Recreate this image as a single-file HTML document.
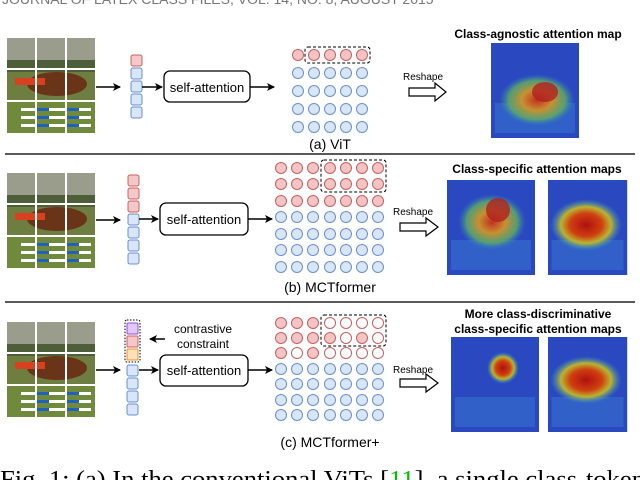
<!DOCTYPE html>
<html><head><meta charset="utf-8"><style>
html,body{margin:0;padding:0;background:#fff;}
svg{display:block;font-family:"Liberation Sans",Arial,sans-serif;}
</style></head><body>
<svg width="640" height="480" viewBox="0 0 640 480" xmlns="http://www.w3.org/2000/svg">
<defs>
<marker id="ah" markerWidth="8" markerHeight="8" refX="7" refY="4" orient="auto" markerUnits="userSpaceOnUse"><path d="M0,0 L8,4 L0,8 L2,4 z" fill="#000"/></marker>
<radialGradient id="hot" cx="50%" cy="50%" r="50%"><stop offset="0" stop-color="#b01010"/><stop offset="0.45" stop-color="#d04010"/><stop offset="0.7" stop-color="#c8c020" stop-opacity="0.9"/><stop offset="1" stop-color="#30a0c0" stop-opacity="0"/></radialGradient>
<radialGradient id="warm" cx="50%" cy="50%" r="50%"><stop offset="0" stop-color="#c03020"/><stop offset="0.4" stop-color="#c89030"/><stop offset="0.75" stop-color="#60b060" stop-opacity="0.8"/><stop offset="1" stop-color="#3080c0" stop-opacity="0"/></radialGradient>
<g id="photo">
<rect x="0" y="0" width="88" height="95" fill="#8a8a6a"/>
<rect x="0" y="0" width="88" height="22" fill="#9a9c8c"/>
<rect x="0" y="22" width="88" height="12" fill="#4e5e38"/>
<rect x="0" y="34" width="88" height="30" fill="#6e7e40"/>
<ellipse cx="50" cy="46" rx="30" ry="12" fill="#6a3418"/>
<rect x="8" y="40" width="30" height="7" fill="#d84020"/>
<rect x="0" y="64" width="88" height="31" fill="#6f8a3c"/>
<rect x="14" y="70" width="70" height="3" fill="#fff"/><rect x="30" y="70" width="12" height="3" fill="#2060c0"/><rect x="60" y="70" width="12" height="3" fill="#2060c0"/>
<rect x="14" y="78" width="70" height="3" fill="#fff"/><rect x="30" y="78" width="12" height="3" fill="#2060c0"/><rect x="60" y="78" width="12" height="3" fill="#2060c0"/>
<rect x="14" y="86" width="70" height="3" fill="#fff"/><rect x="30" y="86" width="12" height="3" fill="#2060c0"/><rect x="60" y="86" width="12" height="3" fill="#2060c0"/>
<rect x="28" y="0" width="2" height="95" fill="#fff"/><rect x="58" y="0" width="2" height="95" fill="#fff"/>
<rect x="0" y="30" width="88" height="2" fill="#fff"/><rect x="0" y="62" width="88" height="2" fill="#fff"/>
</g>
<g id="heat">
<rect x="0" y="0" width="88" height="95" fill="#2a48c0"/>
<rect x="4" y="60" width="80" height="30" fill="#3060c8"/>
</g>
</defs>

<text x="2" y="4" font-size="14" fill="#777">JOURNAL OF LATEX CLASS FILES, VOL. 14, NO. 8, AUGUST 2015</text>

<!-- Panel a -->
<use href="#photo" x="7" y="38"/>
<line x1="96" y1="87" x2="120" y2="87" stroke="#000" stroke-width="1.5" marker-end="url(#ah)"/>
<g stroke-width="1">
<rect x="131" y="55" width="11" height="11" rx="2" fill="#f4c8c8" stroke="#c86060"/>
<rect x="131" y="68" width="11" height="11" rx="2" fill="#d8e6f8" stroke="#6a8fd0"/>
<rect x="131" y="81" width="11" height="11" rx="2" fill="#d8e6f8" stroke="#6a8fd0"/>
<rect x="131" y="94" width="11" height="11" rx="2" fill="#d8e6f8" stroke="#6a8fd0"/>
<rect x="131" y="107" width="11" height="11" rx="2" fill="#d8e6f8" stroke="#6a8fd0"/>
</g>
<line x1="142" y1="87" x2="162" y2="87" stroke="#000" stroke-width="1.5" marker-end="url(#ah)"/>
<rect x="164" y="71" width="86" height="31" rx="6" fill="#fff" stroke="#000" stroke-width="1.3"/>
<text x="207" y="92" font-size="13" text-anchor="middle">self-attention</text>
<line x1="250" y1="87" x2="274" y2="87" stroke="#000" stroke-width="1.5" marker-end="url(#ah)"/>
<g stroke-width="1">
<circle cx="298" cy="55" r="5.5" fill="#f4c4c4" stroke="#c86060"/>
<circle cx="314" cy="55" r="5.5" fill="#f4c4c4" stroke="#c86060"/>
<circle cx="330" cy="55" r="5.5" fill="#f4c4c4" stroke="#c86060"/>
<circle cx="346" cy="55" r="5.5" fill="#f4c4c4" stroke="#c86060"/>
<circle cx="362" cy="55" r="5.5" fill="#f4c4c4" stroke="#c86060"/>
</g>
<g fill="#d8e6f8" stroke="#6a8fd0">
<circle cx="298" cy="73" r="5.5"/><circle cx="314" cy="73" r="5.5"/><circle cx="330" cy="73" r="5.5"/><circle cx="346" cy="73" r="5.5"/><circle cx="362" cy="73" r="5.5"/>
<circle cx="298" cy="91" r="5.5"/><circle cx="314" cy="91" r="5.5"/><circle cx="330" cy="91" r="5.5"/><circle cx="346" cy="91" r="5.5"/><circle cx="362" cy="91" r="5.5"/>
<circle cx="298" cy="109" r="5.5"/><circle cx="314" cy="109" r="5.5"/><circle cx="330" cy="109" r="5.5"/><circle cx="346" cy="109" r="5.5"/><circle cx="362" cy="109" r="5.5"/>
<circle cx="298" cy="127" r="5.5"/><circle cx="314" cy="127" r="5.5"/><circle cx="330" cy="127" r="5.5"/><circle cx="346" cy="127" r="5.5"/><circle cx="362" cy="127" r="5.5"/>
</g>
<rect x="305" y="47" width="65" height="16" rx="3" fill="none" stroke="#000" stroke-dasharray="3,2"/>
<text x="330" y="149" font-size="14" text-anchor="middle">(a) ViT</text>
<text x="403" y="80" font-size="10">Reshape</text>
<path d="M409,88 h26 v-5 l11,9 l-11,9 v-5 h-26 z" fill="#fff" stroke="#000" stroke-width="1.2"/>
<text x="538" y="38" font-size="12" font-weight="bold" text-anchor="middle">Class-agnostic attention map</text>
<use href="#heat" x="491" y="43"/>
<ellipse cx="537" cy="100" rx="38" ry="26" fill="url(#warm)"/>
<ellipse cx="545" cy="92" rx="13" ry="10" fill="#b02020" opacity="0.8"/>
<line x1="5" y1="154" x2="635" y2="154" stroke="#222" stroke-width="1.5"/>

<!-- Panel b -->
<use href="#photo" x="7" y="173"/>
<line x1="96" y1="220" x2="120" y2="220" stroke="#000" stroke-width="1.5" marker-end="url(#ah)"/>
<g>
<rect x="128" y="175" width="11" height="11" rx="2" fill="#f4c8c8" stroke="#c86060"/>
<rect x="128" y="188" width="11" height="11" rx="2" fill="#f4c8c8" stroke="#c86060"/>
<rect x="128" y="201" width="11" height="11" rx="2" fill="#f4c8c8" stroke="#c86060"/>
<rect x="128" y="214" width="11" height="11" rx="2" fill="#d8e6f8" stroke="#6a8fd0"/>
<rect x="128" y="227" width="11" height="11" rx="2" fill="#d8e6f8" stroke="#6a8fd0"/>
<rect x="128" y="240" width="11" height="11" rx="2" fill="#d8e6f8" stroke="#6a8fd0"/>
<rect x="128" y="253" width="11" height="11" rx="2" fill="#d8e6f8" stroke="#6a8fd0"/>
</g>
<line x1="139" y1="219" x2="158" y2="219" stroke="#000" stroke-width="1.5" marker-end="url(#ah)"/>
<rect x="160" y="203" width="88" height="32" rx="6" fill="#fff" stroke="#000" stroke-width="1.3"/>
<text x="204" y="224" font-size="13" text-anchor="middle">self-attention</text>
<line x1="248" y1="219" x2="272" y2="219" stroke="#000" stroke-width="1.5" marker-end="url(#ah)"/>
<g fill="#f4c4c4" stroke="#c86060">
<circle cx="281" cy="168" r="5.5"/><circle cx="297" cy="168" r="5.5"/><circle cx="313" cy="168" r="5.5"/><circle cx="330" cy="168" r="5.5"/><circle cx="346" cy="168" r="5.5"/><circle cx="362" cy="168" r="5.5"/><circle cx="378" cy="168" r="5.5"/>
<circle cx="281" cy="184" r="5.5"/><circle cx="297" cy="184" r="5.5"/><circle cx="313" cy="184" r="5.5"/><circle cx="330" cy="184" r="5.5"/><circle cx="346" cy="184" r="5.5"/><circle cx="362" cy="184" r="5.5"/><circle cx="378" cy="184" r="5.5"/>
<circle cx="281" cy="201" r="5.5"/><circle cx="297" cy="201" r="5.5"/><circle cx="313" cy="201" r="5.5"/><circle cx="330" cy="201" r="5.5"/><circle cx="346" cy="201" r="5.5"/><circle cx="362" cy="201" r="5.5"/><circle cx="378" cy="201" r="5.5"/>
</g>
<g fill="#d8e6f8" stroke="#6a8fd0">
<circle cx="281" cy="217" r="5.5"/><circle cx="297" cy="217" r="5.5"/><circle cx="313" cy="217" r="5.5"/><circle cx="330" cy="217" r="5.5"/><circle cx="346" cy="217" r="5.5"/><circle cx="362" cy="217" r="5.5"/><circle cx="378" cy="217" r="5.5"/>
<circle cx="281" cy="234" r="5.5"/><circle cx="297" cy="234" r="5.5"/><circle cx="313" cy="234" r="5.5"/><circle cx="330" cy="234" r="5.5"/><circle cx="346" cy="234" r="5.5"/><circle cx="362" cy="234" r="5.5"/><circle cx="378" cy="234" r="5.5"/>
<circle cx="281" cy="250" r="5.5"/><circle cx="297" cy="250" r="5.5"/><circle cx="313" cy="250" r="5.5"/><circle cx="330" cy="250" r="5.5"/><circle cx="346" cy="250" r="5.5"/><circle cx="362" cy="250" r="5.5"/><circle cx="378" cy="250" r="5.5"/>
<circle cx="281" cy="267" r="5.5"/><circle cx="297" cy="267" r="5.5"/><circle cx="313" cy="267" r="5.5"/><circle cx="330" cy="267" r="5.5"/><circle cx="346" cy="267" r="5.5"/><circle cx="362" cy="267" r="5.5"/><circle cx="378" cy="267" r="5.5"/>
</g>
<rect x="321" y="160" width="65" height="32" rx="3" fill="none" stroke="#000" stroke-dasharray="3,2"/>
<text x="330" y="292" font-size="14" text-anchor="middle">(b) MCTformer</text>
<text x="393" y="215" font-size="10">Reshape</text>
<path d="M400,223 h26 v-5 l12,9 l-12,9 v-5 h-26 z" fill="#fff" stroke="#000" stroke-width="1.2"/>
<text x="537" y="173" font-size="12" font-weight="bold" text-anchor="middle">Class-specific attention maps</text>
<use href="#heat" x="447" y="180"/>
<ellipse cx="492" cy="222" rx="34" ry="28" fill="url(#warm)"/>
<ellipse cx="498" cy="210" rx="12" ry="12" fill="#b02020" opacity="0.8"/>
<use href="#heat" x="548" y="180" transform="translate(548,180) scale(0.9,1) translate(-548,-180)"/>
<ellipse cx="586" cy="225" rx="36" ry="26" fill="url(#hot)"/>
<line x1="5" y1="302" x2="635" y2="302" stroke="#222" stroke-width="1.5"/>

<!-- Panel c -->
<use href="#photo" x="7" y="322"/>
<line x1="96" y1="370" x2="120" y2="370" stroke="#000" stroke-width="1.5" marker-end="url(#ah)"/>
<rect x="125" y="320" width="15" height="42" rx="2" fill="none" stroke="#000" stroke-dasharray="1.5,1.5"/>
<rect x="127" y="323" width="11" height="11" rx="1" fill="#e0c8f8" stroke="#9050d0"/>
<rect x="127" y="336" width="11" height="11" rx="1" fill="#f4c8c8" stroke="#c86060"/>
<rect x="127" y="349" width="11" height="11" rx="1" fill="#fce0b8" stroke="#e89030"/>
<g fill="#d8e6f8" stroke="#6a8fd0">
<rect x="127" y="365" width="11" height="11" rx="2"/>
<rect x="127" y="378" width="11" height="11" rx="2"/>
<rect x="127" y="391" width="11" height="11" rx="2"/>
<rect x="127" y="404" width="11" height="11" rx="2"/>
</g>
<line x1="165" y1="339" x2="150" y2="339" stroke="#000" stroke-width="1.5" marker-end="url(#ah)"/>
<text x="203" y="333" font-size="12" text-anchor="middle">contrastive</text>
<text x="203" y="348" font-size="12" text-anchor="middle">constraint</text>
<line x1="139" y1="370" x2="158" y2="370" stroke="#000" stroke-width="1.5" marker-end="url(#ah)"/>
<rect x="160" y="355" width="88" height="31" rx="6" fill="#fff" stroke="#000" stroke-width="1.3"/>
<text x="204" y="375" font-size="13" text-anchor="middle">self-attention</text>
<line x1="248" y1="370" x2="272" y2="370" stroke="#000" stroke-width="1.5" marker-end="url(#ah)"/>
<g stroke="#c86060">
<circle cx="281" cy="323" r="5.5" fill="#f4c4c4"/><circle cx="297" cy="323" r="5.5" fill="#f4c4c4"/><circle cx="313" cy="323" r="5.5" fill="#f4c4c4"/><circle cx="330" cy="323" r="5.5" fill="#fff"/><circle cx="346" cy="323" r="5.5" fill="#fff"/><circle cx="362" cy="323" r="5.5" fill="#fff"/><circle cx="378" cy="323" r="5.5" fill="#fff"/>
<circle cx="281" cy="338" r="5.5" fill="#f4c4c4"/><circle cx="297" cy="338" r="5.5" fill="#f4c4c4"/><circle cx="313" cy="338" r="5.5" fill="#f4c4c4"/><circle cx="330" cy="338" r="5.5" fill="#f4c4c4"/><circle cx="346" cy="338" r="5.5" fill="#fff"/><circle cx="362" cy="338" r="5.5" fill="#f4c4c4"/><circle cx="378" cy="338" r="5.5" fill="#fff"/>
<circle cx="281" cy="353" r="5.5" fill="#f4c4c4"/><circle cx="297" cy="353" r="5.5" fill="#fff"/><circle cx="313" cy="353" r="5.5" fill="#f4c4c4"/><circle cx="330" cy="353" r="5.5" fill="#fff"/><circle cx="346" cy="353" r="5.5" fill="#fff"/><circle cx="362" cy="353" r="5.5" fill="#fff"/><circle cx="378" cy="353" r="5.5" fill="#fff"/>
</g>
<g fill="#d8e6f8" stroke="#6a8fd0">
<circle cx="281" cy="369" r="5.5"/><circle cx="297" cy="369" r="5.5"/><circle cx="313" cy="369" r="5.5"/><circle cx="330" cy="369" r="5.5"/><circle cx="346" cy="369" r="5.5"/><circle cx="362" cy="369" r="5.5"/><circle cx="378" cy="369" r="5.5"/>
<circle cx="281" cy="384" r="5.5"/><circle cx="297" cy="384" r="5.5"/><circle cx="313" cy="384" r="5.5"/><circle cx="330" cy="384" r="5.5"/><circle cx="346" cy="384" r="5.5"/><circle cx="362" cy="384" r="5.5"/><circle cx="378" cy="384" r="5.5"/>
<circle cx="281" cy="400" r="5.5"/><circle cx="297" cy="400" r="5.5"/><circle cx="313" cy="400" r="5.5"/><circle cx="330" cy="400" r="5.5"/><circle cx="346" cy="400" r="5.5"/><circle cx="362" cy="400" r="5.5"/><circle cx="378" cy="400" r="5.5"/>
<circle cx="281" cy="415" r="5.5"/><circle cx="297" cy="415" r="5.5"/><circle cx="313" cy="415" r="5.5"/><circle cx="330" cy="415" r="5.5"/><circle cx="346" cy="415" r="5.5"/><circle cx="362" cy="415" r="5.5"/><circle cx="378" cy="415" r="5.5"/>
</g>
<rect x="321" y="315" width="65" height="31" rx="3" fill="none" stroke="#000" stroke-dasharray="3,2"/>
<text x="330" y="447" font-size="14" text-anchor="middle">(c) MCTformer+</text>
<text x="393" y="373" font-size="10">Reshape</text>
<path d="M400,379 h26 v-5 l12,9 l-12,9 v-5 h-26 z" fill="#fff" stroke="#000" stroke-width="1.2"/>
<text x="538" y="318" font-size="12" font-weight="bold" text-anchor="middle">More class-discriminative</text>
<text x="538" y="333" font-size="12" font-weight="bold" text-anchor="middle">class-specific attention maps</text>
<use href="#heat" x="451" y="337"/>
<ellipse cx="503" cy="368" rx="16" ry="16" fill="url(#hot)"/>
<use href="#heat" x="548" y="337" transform="translate(548,337) scale(0.9,1) translate(-548,-337)"/>
<ellipse cx="586" cy="380" rx="36" ry="24" fill="url(#hot)"/>

<text x="0" y="487" font-size="24" font-family="Liberation Serif,serif" textLength="645" lengthAdjust="spacingAndGlyphs">Fig. 1: (a) In the conventional ViTs [<tspan fill="#00c000">11</tspan>], a single class-token</text>
</svg>
</body></html>
